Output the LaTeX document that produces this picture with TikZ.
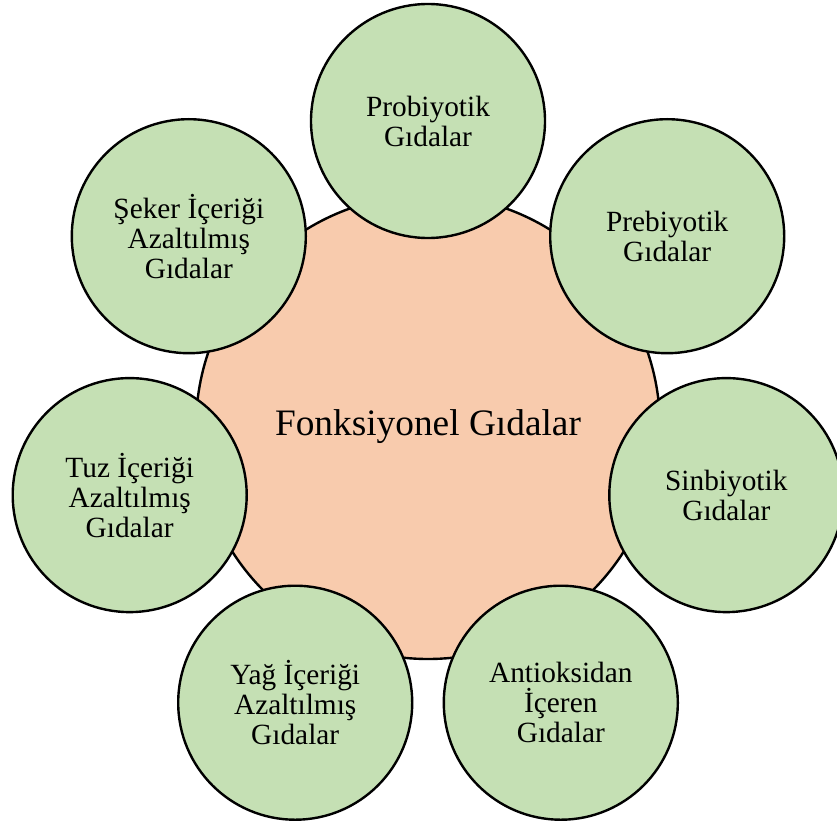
\documentclass[tikz,border=0pt]{standalone}
\usepackage{fontspec}
\setmainfont{Liberation Serif}
\definecolor{leaf}{HTML}{C5E0B4}
\definecolor{peach}{HTML}{F8CBAD}
\begin{document}
\begin{tikzpicture}[x=0.75pt,y=-0.75pt,
  hub/.style={circle, draw=black, line width=1.8pt, fill=peach,
    minimum size=348pt, inner sep=0pt, font=\fontsize{28}{30}\selectfont},
  petal/.style={circle, draw=black, line width=1.8pt, fill=leaf,
    minimum size=175.5pt, inner sep=0pt, align=center,
    font=\fontsize{22}{22.5}\selectfont}]
\useasboundingbox (0,0) rectangle (837,823);
% central circle
\node[hub] (hub) at (428,427) {Fonksiyonel Gıdalar};
% seven satellites, evenly spaced around the hub
\node[petal] (pro) at (428,121)   {Probiyotik\\Gıdalar};
\node[petal] (pre) at (667.2,236.2) {Prebiyotik\\Gıdalar};
\node[petal] (sin) at (726.3,495.1) {Sinbiyotik\\Gıdalar};
\node[petal] (ant) at (560.8,702.7) {Antioksidan\\İçeren\\Gıdalar};
\node[petal] (yag) at (295.2,702.7) {Yağ İçeriği\\Azaltılmış\\Gıdalar};
\node[petal] (tuz) at (129.7,495.1) {Tuz İçeriği\\Azaltılmış\\Gıdalar};
\node[petal] (sek) at (188.8,236.2) {Şeker İçeriği\\Azaltılmış\\Gıdalar};
\end{tikzpicture}
\end{document}
